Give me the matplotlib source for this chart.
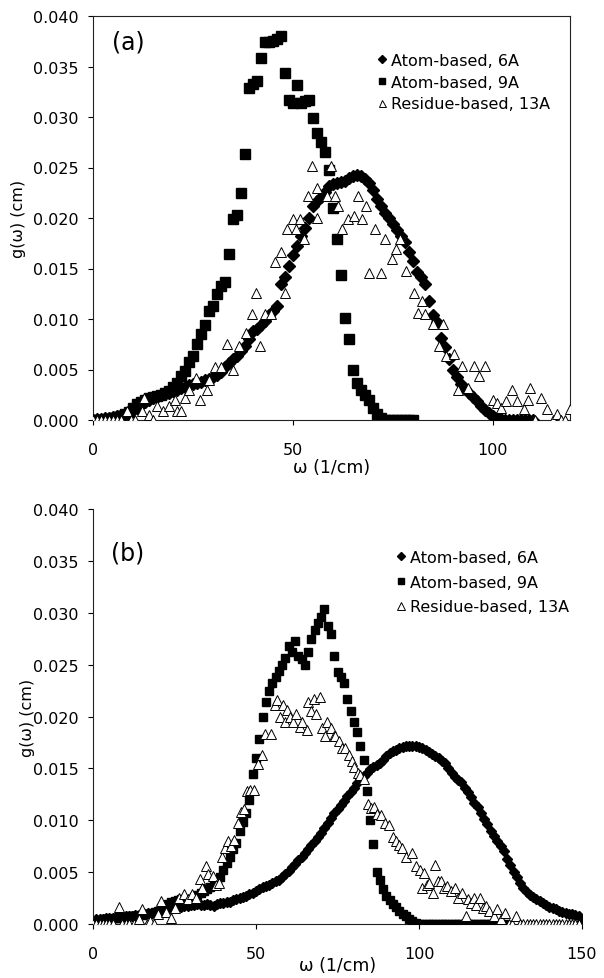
import numpy as np
import matplotlib
matplotlib.use("Agg")
import matplotlib.pyplot as plt

plt.rcParams['font.family'] = ['DejaVu Sans']

# ---------------- Panel (a) data ----------------
a_x6 = list(range(0, 111))
a_y6 = [0, 0.0001, 0.0001, 0.0002, 0.0002, 0.0003, 0.0004, 0.0005, 0.0006, 0.0008,
        0.0010, 0.0012, 0.0015, 0.0018, 0.0020, 0.0022, 0.0023, 0.0025, 0.0026, 0.0027,
        0.0029, 0.0030, 0.0032, 0.0033, 0.0035, 0.0036, 0.0037, 0.0038, 0.0040, 0.0041,
        0.0043, 0.0045, 0.0048, 0.0052, 0.0056, 0.0060, 0.0063, 0.0068, 0.0073, 0.0080,
        0.0088, 0.0090, 0.0094, 0.0098, 0.0104, 0.0108, 0.0113, 0.0135, 0.0142, 0.0152,
        0.0163, 0.0172, 0.0182, 0.0190, 0.0200, 0.0212, 0.0217, 0.0221, 0.0226, 0.0232,
        0.0234, 0.0235, 0.0236, 0.0237, 0.0240, 0.0242, 0.0243, 0.0242, 0.0239, 0.0235,
        0.0228, 0.0219, 0.0212, 0.0205, 0.0200, 0.0194, 0.0188, 0.0182, 0.0176, 0.0166,
        0.0157, 0.0147, 0.0142, 0.0135, 0.0118, 0.0104, 0.0097, 0.0081, 0.0072, 0.0060,
        0.0050, 0.0043, 0.0036, 0.0031, 0.0027, 0.0023, 0.0019, 0.0014, 0.0010, 0.0007,
        0.0004, 0.0002, 0.0001, 0, 0, 0, 0, 0, 0, 0, 0]

a_x9 = list(range(0, 81))
a_y9 = [0, 0, 0, 0, 0.0001, 0.0002, 0.0003, 0.0004, 0.0006, 0.0008,
        0.0012, 0.0016, 0.0018, 0.0020, 0.0022, 0.0023, 0.0024, 0.0025, 0.0027, 0.0029,
        0.0033, 0.0037, 0.0044, 0.0049, 0.0057, 0.0063, 0.0075, 0.0085, 0.0094, 0.0108,
        0.0113, 0.0125, 0.0133, 0.0137, 0.0164, 0.0199, 0.0203, 0.0225, 0.0263, 0.0329,
        0.0333, 0.0336, 0.0358, 0.0374, 0.0374, 0.0375, 0.0377, 0.0380, 0.0344, 0.0317,
        0.0314, 0.0332, 0.0314, 0.0316, 0.0317, 0.0299, 0.0284, 0.0275, 0.0265, 0.0248,
        0.0210, 0.0179, 0.0144, 0.0101, 0.0080, 0.0050, 0.0037, 0.0030, 0.0025, 0.0020,
        0.0012, 0.0006, 0.0002, 0, 0, 0, 0, 0, 0, 0, 0]

a_x13 = [0, 1, 2, 3, 4, 5, 6, 7, 8.4, 9.5, 10.5, 12.2, 12.7, 14, 15.1, 16.1, 17.5, 19,
         20.4, 21, 22, 22.9, 24, 25.7, 26.7, 28.6, 29.1, 30.6, 32, 33.5, 34.9, 36.4,
         38.3, 39.7, 40.7, 41.7, 43.1, 44.6, 45.5, 47, 47.9, 48.4, 49.9, 50.8, 51.8,
         52.8, 53.7, 54.7, 56.1, 56.1, 58.5, 59.5, 60.5, 61.4, 62.4, 63.8, 65.3, 66.2,
         67.2, 68.2, 69.1, 70.6, 72, 73, 74.9, 75.9, 76.8, 78.3, 80.2, 81.2, 82.2, 83.1,
         85, 86.5, 87.5, 88.4, 90.4, 91.3, 92.3, 93.7, 95.2, 96.6, 98.1, 100, 101, 102,
         103.4, 104.8, 106, 107.7, 108.7, 109.2, 110.5, 112, 113.5, 115, 116, 117, 118,
         119.3]
a_y13 = [0, 0, 0, 0, 0, 0, 0, 0, 0.0009, 0, 0, 0.0009, 0.0022, 0.0005, 0, 0.0014, 0.0009,
         0.0014, 0.0020, 0.0009, 0.0009, 0.0022, 0.0030, 0.0042, 0.0020, 0.0030, 0.0040,
         0.0052, 0.0052, 0.0075, 0.0050, 0.0073, 0.0086, 0.0105, 0.0126, 0.0073, 0.0105,
         0.0105, 0.0156, 0.0166, 0.0126, 0.0189, 0.0199, 0.0189, 0.0199, 0.0179, 0.0222,
         0.0251, 0.0230, 0.0200, 0.0222, 0.0251, 0.0222, 0.0212, 0.0189, 0.0199, 0.0202,
         0.0222, 0.0199, 0.0212, 0.0146, 0.0189, 0.0146, 0.0179, 0.0159, 0.0169, 0.0179,
         0.0148, 0.0126, 0.0106, 0.0118, 0.0105, 0.0095, 0.0073, 0.0095, 0.0063, 0.0065,
         0.0030, 0.0053, 0.0032, 0.0053, 0.0044, 0.0053, 0.0020, 0.0017, 0.0012, 0.0019,
         0.0030, 0.0019, 0.0011, 0.0020, 0.0032, 0, 0.0022, 0.0011, 0, 0.0006, 0, 0,
         0.0011]

# ---------------- Panel (b) data ----------------
b_x6 = list(range(0, 151))
b_y6 = [0.0003, 0.0005, 0.0005, 0.0005, 0.0006, 0.0006, 0.0006, 0.0007, 0.0007, 0.0007,
        0.0008, 0.0008, 0.0008, 0.0009, 0.0009, 0.0010, 0.0010, 0.0011, 0.0011, 0.0012,
        0.0012, 0.0013, 0.0013, 0.0014, 0.0015, 0.0015, 0.0016, 0.0016, 0.0017, 0.0017,
        0.0018, 0.0018, 0.0019, 0.0018, 0.0018, 0.0019, 0.0018, 0.0017, 0.0019, 0.0020,
        0.0020, 0.0021, 0.0021, 0.0023, 0.0024, 0.0025, 0.0026, 0.0027, 0.0029, 0.0030,
        0.0032, 0.0034, 0.0036, 0.0037, 0.0038, 0.0040, 0.0041, 0.0042, 0.0045, 0.0048,
        0.0051, 0.0055, 0.0058, 0.0062, 0.0065, 0.0068, 0.0072, 0.0076, 0.0080, 0.0084,
        0.0088, 0.0093, 0.0097, 0.0102, 0.0107, 0.0111, 0.0115, 0.0119, 0.0123, 0.0127,
        0.0131, 0.0136, 0.0140, 0.0143, 0.0146, 0.0149, 0.0151, 0.0153, 0.0155, 0.0158,
        0.0162, 0.0165, 0.0167, 0.0168, 0.0170, 0.0171, 0.0172, 0.0172, 0.0172, 0.0172,
        0.0171, 0.0170, 0.0168, 0.0166, 0.0164, 0.0162, 0.0160, 0.0157, 0.0155, 0.0150,
        0.0146, 0.0142, 0.0139, 0.0137, 0.0131, 0.0127, 0.0122, 0.0117, 0.0113, 0.0107,
        0.0101, 0.0096, 0.0090, 0.0085, 0.0080, 0.0075, 0.0070, 0.0063, 0.0057, 0.0050,
        0.0045, 0.0040, 0.0035, 0.0031, 0.0028, 0.0026, 0.0024, 0.0022, 0.0020, 0.0018,
        0.0016, 0.0015, 0.0014, 0.0013, 0.0012, 0.0011, 0.0010, 0.0010, 0.0009, 0.0008,
        0.0003]

b_x9 = list(range(0, 127))
b_y9 = [0, 0.0001, 0.0003, 0.0005, 0.0005, 0.0005, 0.0006, 0.0006, 0.0006, 0.0007,
        0.0007, 0.0008, 0.0008, 0.0008, 0.0009, 0.0009, 0.0010, 0.0010, 0.0011, 0.0012,
        0.0013, 0.0015, 0.0017, 0.0019, 0.0021, 0.0022, 0.0023, 0.0024, 0.0022, 0.0019,
        0.0024, 0.0026, 0.0028, 0.0030, 0.0032, 0.0034, 0.0036, 0.0038, 0.0041, 0.0045,
        0.0052, 0.0059, 0.0065, 0.0072, 0.0078, 0.0090, 0.0098, 0.0107, 0.0120, 0.0145,
        0.0160, 0.0178, 0.0200, 0.0214, 0.0225, 0.0232, 0.0238, 0.0244, 0.0250, 0.0256,
        0.0268, 0.0262, 0.0273, 0.0258, 0.0255, 0.0250, 0.0262, 0.0275, 0.0283, 0.0290,
        0.0296, 0.0304, 0.0287, 0.0280, 0.0258, 0.0243, 0.0238, 0.0232, 0.0217, 0.0205,
        0.0195, 0.0185, 0.0172, 0.0158, 0.0128, 0.0100, 0.0077, 0.0050, 0.0042, 0.0034,
        0.0027, 0.0023, 0.0019, 0.0016, 0.0013, 0.0010, 0.0008, 0.0005, 0.0003, 0.0001,
        0, 0, 0, 0, 0, 0, 0, 0, 0, 0,
        0, 0, 0, 0, 0, 0, 0, 0, 0, 0,
        0, 0, 0, 0, 0, 0, 0]

b_x13 = [0, 1, 2, 3, 4, 5, 6, 7.9, 9, 10, 11, 12.5, 14, 15, 16.5, 17.5, 18.6, 19.8, 21,
         22.5, 23.9, 25, 26.5, 28, 29.2, 30.4, 31.5, 32.8, 33.5, 34.6, 35.2, 36.9, 37.8,
         38.7, 39.5, 40.5, 41.4, 42.3, 43.4, 44.6, 45.5, 46.4, 47.3, 48.2, 49.4, 50.6,
         51.7, 52.9, 54.7, 55.9, 56.5, 57.4, 58.2, 58.8, 59.4, 60.5, 61.2, 62.4, 63.5,
         64.2, 65.5, 66.1, 66.8, 67.7, 68.5, 69.5, 70.2, 71.2, 71.9, 73, 73.8, 74.2,
         75.4, 76.5, 77.2, 78.4, 79.3, 80.1, 81.2, 81.9, 83, 84.3, 85.2, 86.1, 87.2,
         88.4, 89.5, 90.8, 92, 92.9, 93.8, 94.9, 96.1, 97.9, 99.1, 100.2, 100.9, 101.5,
         102.5, 103.2, 104.4, 105, 105.8, 106.8, 107.6, 108.6, 109.7, 110.9, 112, 113.3,
         114.5, 115.1, 116, 116.8, 117.6, 118.6, 119.5, 120.4, 121.6, 123, 124, 125,
         126.3, 127.5, 128.5, 129.9, 131, 132, 133, 134, 135, 136, 137, 138, 139, 140,
         141, 142, 143, 144, 145, 146, 147, 148, 149]
b_y13 = [0, 0, 0, 0, 0, 0, 0, 0.0016, 0, 0, 0, 0, 0.0005, 0.0014, 0, 0.0003, 0, 0.0010,
         0.0022, 0.0012, 0.0006, 0.0015, 0.0025, 0.0029, 0.0024, 0.0029, 0.0025, 0.0043,
         0.0035, 0.0056, 0.0048, 0.0046, 0.0038, 0.0040, 0.0065, 0.0073, 0.0080, 0.0075,
         0.0081, 0.0097, 0.0108, 0.0111, 0.0128, 0.0129, 0.0129, 0.0154, 0.0163, 0.0183,
         0.0183, 0.0211, 0.0216, 0.0200, 0.0211, 0.0195, 0.0206, 0.0200, 0.0195, 0.0202,
         0.0190, 0.0195, 0.0187, 0.0214, 0.0205, 0.0217, 0.0202, 0.0219, 0.0189, 0.0181,
         0.0195, 0.0189, 0.0181, 0.0181, 0.0176, 0.0170, 0.0170, 0.0163, 0.0157, 0.0151,
         0.0146, 0.0144, 0.0140, 0.0116, 0.0112, 0.0113, 0.0106, 0.0105, 0.0097, 0.0095,
         0.0084, 0.0080, 0.0076, 0.0073, 0.0065, 0.0068, 0.0056, 0.0052, 0.0035, 0.0049,
         0.0038, 0.0040, 0.0030, 0.0057, 0.0041, 0.0041, 0.0035, 0.0037, 0.0032, 0.0035,
         0.0025, 0.0030, 0.0008, 0.0024, 0.0020, 0.0025, 0.0018, 0.0025, 0.0015, 0.0017,
         0.0013, 0.0008, 0.0014, 0.0005, 0.0011, 0, 0, 0.0008, 0, 0, 0, 0, 0, 0, 0, 0,
         0, 0, 0, 0, 0, 0, 0, 0, 0, 0, 0]

labels = ["Atom-based, 6A", "Atom-based, 9A", "Residue-based, 13A"]
y_ticks = [0.000, 0.005, 0.010, 0.015, 0.020, 0.025, 0.030, 0.035, 0.040]

W, H = 604, 979
fig = plt.figure(figsize=(W / 100, H / 100), dpi=100)


def px_axes(left, top, right, bottom):
    return fig.add_axes([left / W, 1 - bottom / H, (right - left) / W, (bottom - top) / H])


ax_a = px_axes(93, 17, 570, 421)
ax_b = px_axes(93, 510, 582, 925)

FS = 11.5


def style(ax, xmax, xticks):
    ax.set_xlim(0, xmax)
    ax.set_ylim(0, 0.040)
    ax.set_xticks(xticks)
    ax.set_yticks(y_ticks)
    ax.set_yticklabels([f"{v:.3f}" for v in y_ticks])
    ax.tick_params(axis='both', direction='out', length=3.6, width=0.8, labelsize=FS,
                   colors='black')
    ax.tick_params(axis='y', pad=6.5)
    ax.tick_params(axis='x', pad=12)
    for s in ax.spines.values():
        s.set_linewidth(0.8)
        s.set_color('#222222')


# Panel (a)
ax = ax_a
ax.plot(a_x6, a_y6, linestyle='none', marker='D', ms=6.2, color='black', mec='black',
        label=labels[0], zorder=3)
ax.plot(a_x9, a_y9, linestyle='none', marker='s', ms=6.6, color='black', mec='black',
        label=labels[1], zorder=2)
ax.plot(a_x13, a_y13, linestyle='none', marker='^', ms=7.2, mfc='white', mec='black',
        mew=0.7, label=labels[2], zorder=4)
style(ax, 119.3, [0, 50, 100])
ax.set_xlabel("ω (1/cm)", fontsize=12.5)
ax.xaxis.set_label_coords(0.5, -0.116)
ax.xaxis.label.set_va('center')
ax.set_ylabel("g(ω) (cm)", fontsize=11.5)
ax.yaxis.set_label_coords(-0.156, 0.5)
ax.yaxis.label.set_va('center')
ax.text(0.073, 0.936, "(a)", transform=ax.transAxes, fontsize=17, ha='center', va='center')
ax.legend(loc='upper left', bbox_to_anchor=((377 - 93) / 477, 1 - (54 - 17) / 404),
          frameon=False, fontsize=FS, handlelength=0.6, handletextpad=0.3,
          labelspacing=0.42, borderpad=0, borderaxespad=0, markerscale=0.7)

# Panel (b)
ax = ax_b
ax.plot(b_x6, b_y6, linestyle='none', marker='D', ms=5.6, color='black', mec='black',
        label=labels[0], zorder=2)
ax.plot(b_x9, b_y9, linestyle='none', marker='s', ms=5.8, color='black', mec='black',
        label=labels[1], zorder=3)
ax.plot(b_x13, b_y13, linestyle='none', marker='^', ms=6.5, mfc='white', mec='black',
        mew=0.7, label=labels[2], zorder=4)
style(ax, 150, [0, 50, 100, 150])
ax.spines['top'].set_visible(False)
ax.spines['right'].set_visible(False)
ax.set_xlabel("ω (1/cm)", fontsize=12.5)
ax.xaxis.set_label_coords(0.5, -0.099)
ax.xaxis.label.set_va('center')
ax.set_ylabel("g(ω) (cm)", fontsize=11.5)
ax.yaxis.set_label_coords(-0.133, 0.5)
ax.yaxis.label.set_va('center')
ax.text(0.07, 0.896, "(b)", transform=ax.transAxes, fontsize=17, ha='center', va='center')
ax.legend(loc='upper left', bbox_to_anchor=((396 - 93) / 489, 1 - (551 - 510) / 415),
          frameon=False, fontsize=FS, handlelength=0.6, handletextpad=0.3,
          labelspacing=0.6, borderpad=0, borderaxespad=0, markerscale=0.8)

fig.savefig("out.png", dpi=100)
